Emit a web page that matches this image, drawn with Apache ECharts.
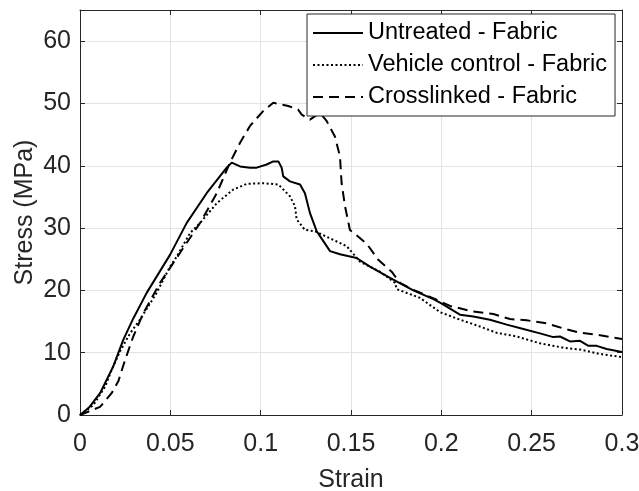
<!DOCTYPE html>
<html>
<head>
<meta charset="utf-8">
<script src="https://cdn.jsdelivr.net/npm/echarts@6/dist/echarts.min.js"></script>
<style>
  html, body { margin: 0; padding: 0; background: #fff; }
  #chart { width: 639px; height: 491px; }
</style>
</head>
<body>
<div id="chart"></div>
<script>
// values
const untreatedX = [0, 0.005, 0.0111, 0.0184, 0.024, 0.0295, 0.0369, 0.0498, 0.059, 0.0701, 0.0812, 0.084, 0.0886, 0.0941, 0.0978, 0.1033, 0.107, 0.1098, 0.1116, 0.1125, 0.1162, 0.1218, 0.1245, 0.1273, 0.131, 0.1347, 0.1384, 0.1439, 0.1531, 0.1605, 0.1716, 0.1845, 0.1956, 0.2, 0.2103, 0.2177, 0.2269, 0.2362, 0.2454, 0.2546, 0.262, 0.2657, 0.2712, 0.2768, 0.2814, 0.286, 0.2915, 0.3];
const untreatedY = [0, 1.2, 3.5, 7.8, 12.1, 15.5, 19.6, 25.7, 30.8, 35.6, 39.7, 40.5, 39.9, 39.7, 39.7, 40.2, 40.7, 40.7, 39.7, 38.3, 37.5, 37.0, 35.6, 32.4, 29.5, 27.9, 26.3, 25.8, 25.2, 23.8, 22.0, 20.0, 18.6, 17.9, 16.1, 15.8, 15.3, 14.5, 13.8, 13.1, 12.5, 12.6, 11.8, 11.9, 11.1, 11.1, 10.6, 10.1];

const vehicleX = [0, 0.0074, 0.0138, 0.0175, 0.0221, 0.0277, 0.0332, 0.0424, 0.0498, 0.0535, 0.0609, 0.0664, 0.0757, 0.0849, 0.0923, 0.1015, 0.1098, 0.1162, 0.119, 0.1199, 0.1245, 0.1301, 0.1402, 0.1476, 0.155, 0.166, 0.1744, 0.1753, 0.1882, 0.1993, 0.2103, 0.2214, 0.2306, 0.2417, 0.2546, 0.2675, 0.2768, 0.2878, 0.3];
const vehicleY = [0, 1.6, 4.5, 7.2, 10.2, 13.1, 15.3, 19.6, 23.8, 25.4, 29.2, 30.8, 34.0, 36.2, 37.1, 37.2, 37.0, 35.1, 33.5, 31.4, 29.7, 29.5, 28.1, 27.1, 24.6, 23.0, 21.2, 20.2, 18.8, 16.5, 15.3, 14.2, 13.2, 12.6, 11.5, 10.8, 10.5, 9.8, 9.3];

const crosslinkedX = [0, 0.0111, 0.0175, 0.0212, 0.0249, 0.0295, 0.035, 0.0443, 0.0553, 0.0664, 0.0757, 0.083, 0.0886, 0.0941, 0.1015, 0.107, 0.1153, 0.1208, 0.1227, 0.1273, 0.1328, 0.1365, 0.1411, 0.1439, 0.1448, 0.1467, 0.1494, 0.1587, 0.1651, 0.1725, 0.1771, 0.1845, 0.1974, 0.2048, 0.2177, 0.2288, 0.238, 0.2472, 0.2583, 0.2675, 0.2768, 0.286, 0.3];
const crosslinkedY = [0, 1.3, 3.5, 5.4, 8.8, 12.6, 16.3, 21.2, 26.0, 30.8, 35.6, 40.5, 43.7, 46.4, 48.8, 50.1, 49.6, 49.0, 48.2, 47.4, 48.5, 47.2, 44.7, 41.5, 37.2, 33.5, 29.7, 27.5, 24.9, 23.0, 21.2, 20.1, 18.5, 17.5, 16.6, 16.2, 15.4, 15.2, 14.7, 13.9, 13.2, 12.9, 12.2];

const seriesNames = ['Untreated - Fabric', 'Vehicle control - Fabric', 'Crosslinked - Fabric'];

function pairs(xs, ys) {
  return xs.map((x, i) => [x, ys[i]]);
}

const font = 'Liberation Sans, Arial, Helvetica, sans-serif';
const axisColor = '#262626';

const chart = echarts.init(document.getElementById('chart'));

const baseAxis = {
  axisLine: { show: true, onZero: false, lineStyle: { color: axisColor, width: 1 } },
  axisTick: { show: true, inside: true, length: 5, lineStyle: { color: axisColor } },
};

chart.setOption({
  animation: false,
  backgroundColor: '#fff',
  grid: { left: 80, right: 17, top: 10, bottom: 76, containLabel: false, outerBoundsMode: 'none' },
  legend: {
    orient: 'vertical',
    left: 307,
    top: 14,
    data: seriesNames,
    backgroundColor: '#fff',
    borderColor: axisColor,
    borderWidth: 1,
    borderRadius: 0,
    padding: [7, 8, 7, 5],
    itemGap: 8,
    itemWidth: 50,
    itemHeight: 22,
    itemStyle: { opacity: 0 },
    textStyle: { fontFamily: font, fontSize: 23.5, color: '#000' },
  },
  xAxis: [
    Object.assign({}, baseAxis, {
      type: 'value', min: 0, max: 0.3, interval: 0.05,
      name: 'Strain', nameLocation: 'middle', nameGap: 53,
      nameTextStyle: { fontFamily: font, fontSize: 25, color: axisColor },
      axisLabel: { fontFamily: font, fontSize: 25, color: axisColor, margin: 17 },
      splitLine: { show: true, lineStyle: { color: '#e3e3e3', width: 1 } },
    }),
    Object.assign({}, baseAxis, {
      type: 'value', position: 'top', min: 0, max: 0.3, interval: 0.05,
      axisLabel: { show: false }, splitLine: { show: false },
    }),
  ],
  yAxis: [
    Object.assign({}, baseAxis, {
      type: 'value', min: 0, max: 65, interval: 10,
      name: 'Stress (MPa)', nameLocation: 'middle', nameGap: 42, nameMoveOverlap: false,
      nameTextStyle: { fontFamily: font, fontSize: 25, color: axisColor },
      axisLabel: {
        fontFamily: font, fontSize: 25, color: axisColor, margin: 9,
        formatter: v => (v % 10 === 0 ? String(v) : ''),
      },
      splitLine: { show: true, lineStyle: { color: '#e3e3e3', width: 1 } },
    }),
    Object.assign({}, baseAxis, {
      type: 'value', position: 'right', min: 0, max: 65, interval: 10,
      axisLabel: { show: false }, splitLine: { show: false },
    }),
  ],
  series: [
    {
      name: seriesNames[0], type: 'line', symbol: 'none', smooth: false,
      data: pairs(untreatedX, untreatedY),
      lineStyle: { color: '#000', width: 2, type: 'solid' },
      itemStyle: { color: '#000' },
    },
    {
      name: seriesNames[1], type: 'line', symbol: 'none', smooth: false,
      data: pairs(vehicleX, vehicleY),
      lineStyle: { color: '#000', width: 2, type: [2, 2.5] },
      itemStyle: { color: '#000' },
    },
    {
      name: seriesNames[2], type: 'line', symbol: 'none', smooth: false,
      data: pairs(crosslinkedX, crosslinkedY),
      lineStyle: { color: '#000', width: 2, type: [10, 6] },
      itemStyle: { color: '#000' },
    },
  ],
});
</script>
</body>
</html>
